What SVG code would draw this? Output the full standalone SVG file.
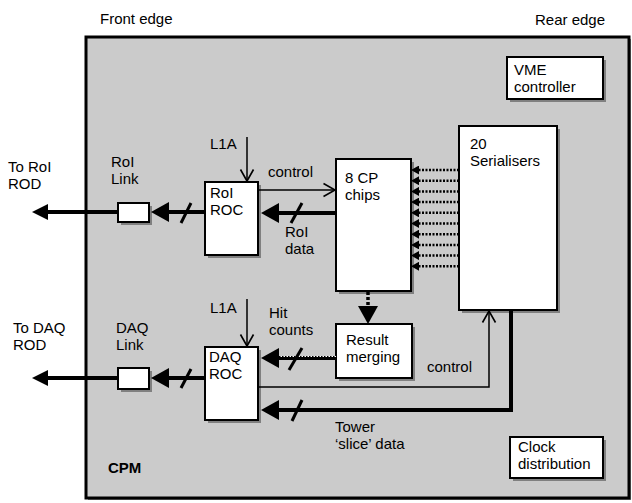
<svg xmlns="http://www.w3.org/2000/svg" width="632" height="503" viewBox="0 0 632 503">
<style>
text{font-family:"Liberation Sans",Arial,sans-serif;font-size:15px;fill:#000}
.bold{font-weight:bold}
.box{fill:#fff;stroke:#000;stroke-width:2}
.sh{fill:#808080}
.thick{stroke:#000;stroke-width:4;fill:none}
.thin{stroke:#000;stroke-width:1.5;fill:none}
.dot{stroke:#000;stroke-width:2.5;stroke-dasharray:2,1.5;fill:none}
.slash{stroke:#000;stroke-width:3}
</style>
<defs>
<marker id="ah" markerUnits="userSpaceOnUse" markerWidth="18" markerHeight="20" viewBox="0 0 18 20" refX="0" refY="10" orient="auto"><path d="M0,0 L18,10 L0,20 z" fill="#000"/></marker>
<marker id="ahs" markerUnits="userSpaceOnUse" markerWidth="16" markerHeight="16" viewBox="0 0 16 16" refX="0" refY="8" orient="auto"><path d="M0,0 L16,8 L0,16 z" fill="#000"/></marker>
<marker id="ahd" markerUnits="userSpaceOnUse" markerWidth="8" markerHeight="9" viewBox="0 0 8 9" refX="0" refY="4.5" orient="auto"><path d="M0,0 L8,4.5 L0,9 z" fill="#000"/></marker>
<marker id="av" markerUnits="userSpaceOnUse" markerWidth="14" markerHeight="16" viewBox="0 0 14 16" refX="12.5" refY="8" orient="auto"><path d="M1,1.5 L12.5,8 L1,14.5" fill="none" stroke="#000" stroke-width="1.6"/></marker>
</defs>

<text x="100" y="24">Front edge</text>
<text x="535" y="25">Rear edge</text>

<g id="cpm">
<rect x="88" y="39" width="543" height="461" class="sh"/>
<rect x="86" y="37" width="543" height="461" fill="#cbcbcb" stroke="#000" stroke-width="3"/>
<text x="108" y="473" class="bold">CPM</text>
</g>

<g id="vme">
<rect x="510" y="60" width="96" height="42" class="sh"/>
<rect x="507" y="57" width="96" height="42" class="box"/>
<text x="514" y="75">VME</text>
<text x="514" y="92">controller</text>
</g>

<g id="serialisers">
<rect x="462" y="129" width="98" height="184" class="sh"/>
<rect x="459" y="126" width="98" height="184" class="box"/>
<text x="470" y="149">20</text>
<text x="470" y="166">Serialisers</text>
</g>

<g id="cpchips">
<rect x="339" y="162" width="75" height="132" class="sh"/>
<rect x="336" y="159" width="75" height="132" class="box"/>
<text x="345" y="183">8 CP</text>
<text x="345" y="200">chips</text>
</g>

<g id="roiroc">
<rect x="208" y="185" width="53" height="73" class="sh"/>
<rect x="205" y="182" width="53" height="73" class="box"/>
<text x="210" y="198">RoI</text>
<text x="210" y="215">ROC</text>
</g>

<g id="roilink">
<rect x="121" y="206" width="31" height="19" class="sh"/>
<rect x="118" y="203" width="31" height="19" class="box"/>
</g>

<g id="merging">
<rect x="339" y="327" width="76" height="54" class="sh"/>
<rect x="336" y="324" width="76" height="54" class="box"/>
<text x="346" y="345">Result</text>
<text x="346" y="362">merging</text>
</g>

<g id="daqroc">
<rect x="208" y="350" width="53" height="73" class="sh"/>
<rect x="205" y="347" width="53" height="73" class="box"/>
<text x="209" y="362">DAQ</text>
<text x="209" y="379">ROC</text>
</g>

<g id="daqlink">
<rect x="121" y="371" width="31" height="21" class="sh"/>
<rect x="118" y="368" width="31" height="21" class="box"/>
</g>

<g id="clock">
<rect x="513" y="440" width="93" height="41" class="sh"/>
<rect x="510" y="437" width="93" height="41" class="box"/>
<text x="518" y="452">Clock</text>
<text x="518" y="469">distribution</text>
</g>

<g id="labels">
<text x="8" y="172">To RoI</text>
<text x="8" y="189">ROD</text>
<text x="111" y="167">RoI</text>
<text x="111" y="184">Link</text>
<text x="210" y="149">L1A</text>
<text x="268" y="177">control</text>
<text x="285" y="237">RoI</text>
<text x="285" y="254">data</text>
<text x="13" y="333">To DAQ</text>
<text x="13" y="350">ROD</text>
<text x="116" y="333">DAQ</text>
<text x="116" y="350">Link</text>
<text x="210" y="313">L1A</text>
<text x="269" y="318">Hit</text>
<text x="269" y="335">counts</text>
<text x="427" y="372">control</text>
<text x="335" y="432">Tower</text>
<text x="335" y="449">‘slice’ data</text>
</g>

<g id="connectors">
<!-- RoI path -->
<line x1="118" y1="212" x2="48" y2="212" class="thick" marker-end="url(#ahs)"/>
<line x1="205" y1="212" x2="169" y2="212" class="thick" marker-end="url(#ah)"/>
<line x1="181" y1="223" x2="191" y2="203" class="slash"/>
<line x1="247" y1="137" x2="247" y2="181" class="thin" marker-end="url(#av)"/>
<line x1="258" y1="190" x2="335" y2="190" class="thin" marker-end="url(#av)"/>
<line x1="336" y1="213" x2="279" y2="213" class="thick" marker-end="url(#ah)"/>
<line x1="291" y1="223" x2="302" y2="203" class="slash"/>
<!-- serialiser to CP -->
<g class="dot">
<line x1="459" y1="170" x2="419" y2="170" marker-end="url(#ahd)"/>
<line x1="459" y1="180.7" x2="419" y2="180.7" marker-end="url(#ahd)"/>
<line x1="459" y1="191.4" x2="419" y2="191.4" marker-end="url(#ahd)"/>
<line x1="459" y1="202.1" x2="419" y2="202.1" marker-end="url(#ahd)"/>
<line x1="459" y1="212.8" x2="419" y2="212.8" marker-end="url(#ahd)"/>
<line x1="459" y1="223.5" x2="419" y2="223.5" marker-end="url(#ahd)"/>
<line x1="459" y1="234.2" x2="419" y2="234.2" marker-end="url(#ahd)"/>
<line x1="459" y1="244.9" x2="419" y2="244.9" marker-end="url(#ahd)"/>
<line x1="459" y1="255.6" x2="419" y2="255.6" marker-end="url(#ahd)"/>
<line x1="459" y1="266.3" x2="419" y2="266.3" marker-end="url(#ahd)"/>
</g>
<!-- CP to merging -->
<line x1="368" y1="292" x2="368" y2="306" stroke="#000" stroke-width="3.5" stroke-dasharray="3,2" marker-end="url(#ah)"/>
<!-- DAQ path -->
<line x1="118" y1="378" x2="48" y2="378" class="thick" marker-end="url(#ahs)"/>
<line x1="205" y1="378" x2="169" y2="378" class="thick" marker-end="url(#ah)"/>
<line x1="181" y1="388" x2="191" y2="369" class="slash"/>
<line x1="247" y1="299" x2="247" y2="346" class="thin" marker-end="url(#av)"/>
<line x1="336" y1="358" x2="279" y2="358" class="thick" stroke-width="5" marker-end="url(#ah)"/>
<line x1="336" y1="356.5" x2="279" y2="356.5" stroke="#fff" stroke-width="1" stroke-dasharray="1.5,1.5"/>
<line x1="289" y1="370" x2="302" y2="348" class="slash"/>
<polyline points="258,387 489,387 489,311" class="thin" marker-end="url(#av)"/>
<polyline points="511,310 511,410 279,410" class="thick" marker-end="url(#ah)"/>
<line x1="292" y1="421" x2="302" y2="400" class="slash"/>
</g>
</svg>
